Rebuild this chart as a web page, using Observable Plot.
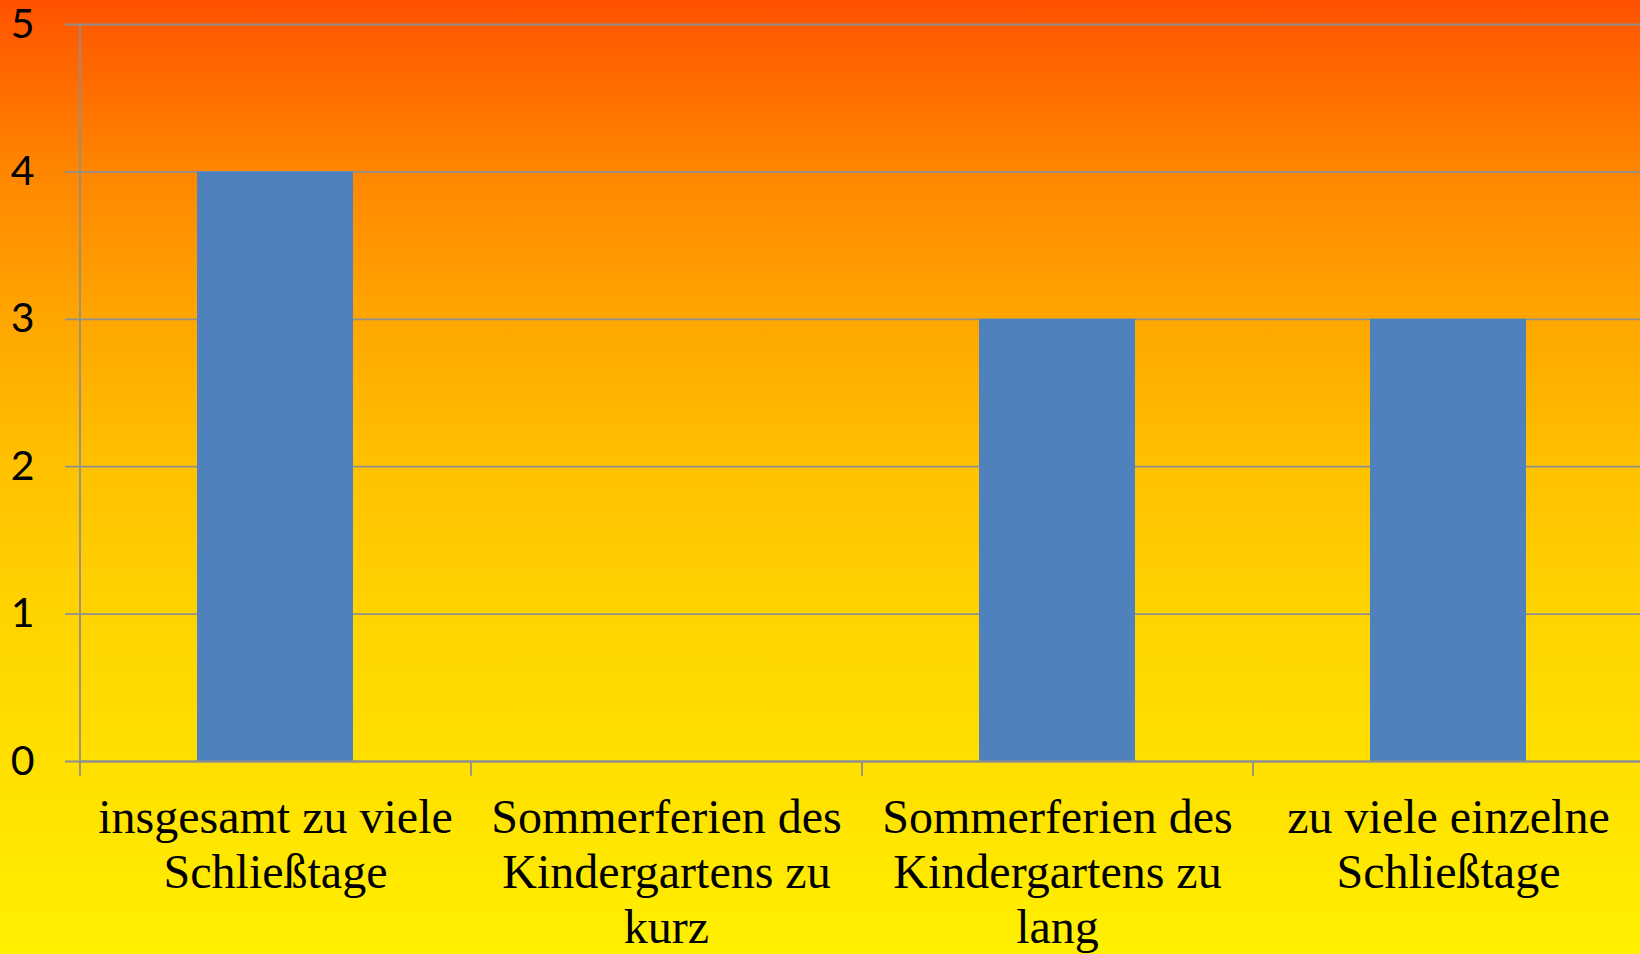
<!DOCTYPE html>
<html>
<head>
<meta charset="utf-8">
<script src="https://cdn.jsdelivr.net/npm/d3@7"></script>
<script src="https://cdn.jsdelivr.net/npm/@observablehq/plot@0.6"></script>
<style>
  html, body { margin: 0; padding: 0; }
  body {
    width: 1640px; height: 954px; overflow: hidden;
    background: linear-gradient(to bottom,
      #ff4f00 0px, #ff5a00 24px, #ff8600 171px, #ffa600 318px,
      #ffc100 465px, #ffd300 612px, #ffdf00 761px, #fff000 954px);
  }
  #chart svg { display: block; background: transparent; }
</style>
</head>
<body>
<div id="chart"></div>
<script>
const categories = [
  "insgesamt zu viele Schließtage",
  "Sommerferien des Kindergartens zu kurz",
  "Sommerferien des Kindergartens zu lang",
  "zu viele einzelne Schließtage"
];
const tickLabels = [
  "insgesamt zu viele\nSchließtage",
  "Sommerferien des\nKindergartens zu\nkurz",
  "Sommerferien des\nKindergartens zu\nlang",
  "zu viele einzelne\nSchließtage"
];
const values = [4, 0, 3, 3];
const yTicks = [0, 1, 2, 3, 4, 5];

const data = categories.map((c, i) => ({category: c, value: values[i], label: tickLabels[i]}));

const W = 1640, H = 954;
const xRange = [80, 1644];
const step = (xRange[1] - xRange[0]) / categories.length;
const gridColor = "#8f8f8f";

const chart = Plot.plot({
  width: W,
  height: H,
  marginLeft: 80,
  marginRight: 0,
  marginTop: 24,
  marginBottom: 193,
  style: {background: "transparent", overflow: "visible"},
  x: {domain: categories, range: xRange, paddingInner: 0.6, paddingOuter: 0.3, axis: null},
  y: {domain: [0, 5], axis: null},
  marks: [
    Plot.ruleY(yTicks, {y: d => d, stroke: gridColor, strokeWidth: 1.8, insetLeft: -15}),
    Plot.barY(data, {x: "category", y: "value", fill: "#4f81bd"}),
    Plot.ruleX([categories[0]], {x: d => d, y1: -0.1, y2: 5, dx: -step / 2, stroke: gridColor, strokeWidth: 1.8}),
    Plot.ruleX(categories.slice(1), {x: d => d, y1: -0.1, y2: 0, dx: -step / 2, stroke: gridColor, strokeWidth: 1.8}),
    Plot.ruleY([0], {stroke: gridColor, strokeWidth: 1.8}),
    Plot.text(yTicks, {
      y: d => d, frameAnchor: "left", dx: -46, text: d => String(d),
      textAnchor: "end", fontSize: 41, fontFamily: "Lato", fill: "#000"
    }),
    Plot.text(data, {
      x: "category", y: 0, text: "label", dy: 32, lineAnchor: "top",
      lineHeight: 1.15, fontSize: 48, fontFamily: "Liberation Serif", fill: "#000"
    })
  ]
});
document.getElementById("chart").appendChild(chart);
</script>
</body>
</html>
